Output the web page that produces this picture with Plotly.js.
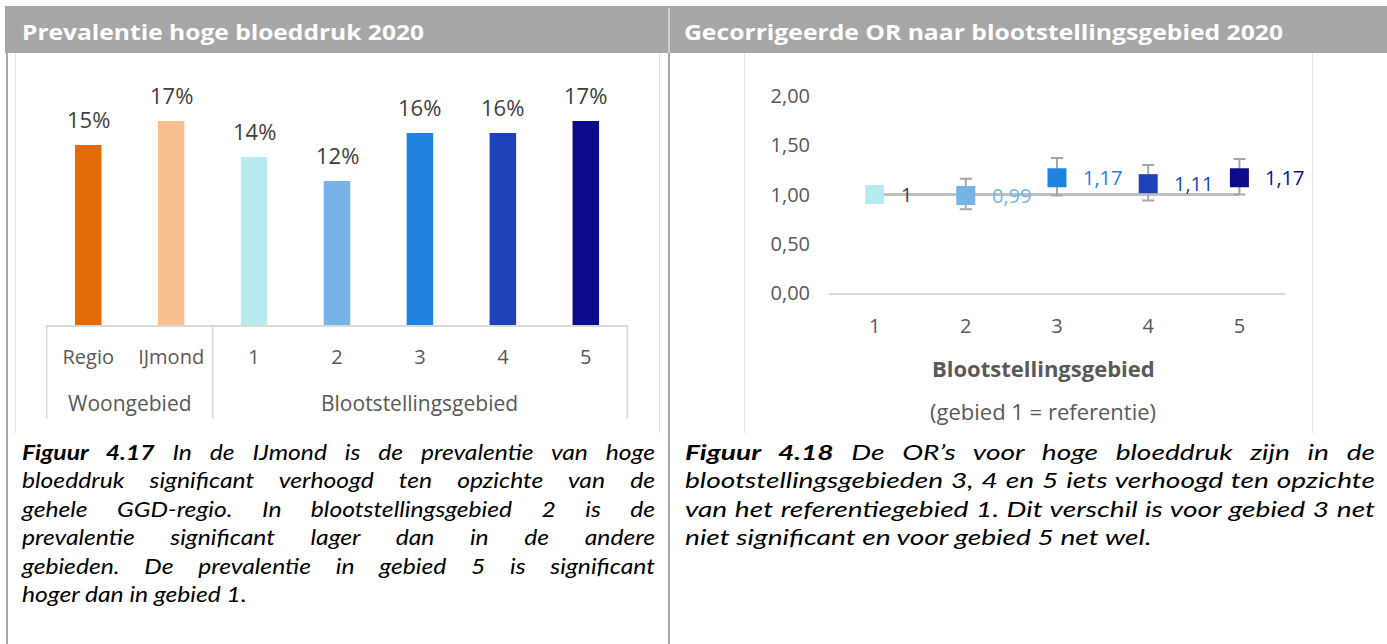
<!DOCTYPE html>
<html>
<head>
<meta charset="utf-8">
<script src="https://cdn.plot.ly/plotly-3.0.1.min.js"></script>
<style>
  html, body { margin:0; padding:0; background:#fff; }
  body { width:1387px; height:644px; position:relative; overflow:hidden; font-family:"Open Sans", Lato, sans-serif; }
  .abs { position:absolute; }
  #hdr { left:5px; top:6px; width:1382px; height:47px; background:#a6a6a6; }
  .htitle { position:absolute; top:8px; line-height:46px; color:#fff; font-weight:700; font-size:22px; white-space:nowrap; transform-origin:0 50%; }
  .vline { position:absolute; }
  .cap { position:absolute; font-family:Lato, "Open Sans", sans-serif; font-style:italic; color:#000; transform-origin:0 0; }
  .cap div { height:28.4px; line-height:28.4px; text-align:justify; text-align-last:justify; }
  .cap div.last { text-align:left; text-align-last:left; }
  .cap.measure div { text-align:left; text-align-last:left; white-space:nowrap; }
  .cap b { font-weight:700; }
</style>
</head>
<body>
<div id="hdr" class="abs"></div>
<div class="vline" style="left:668px;top:8px;width:2px;height:45px;background:#d0d0d0;"></div>
<div id="hL" class="htitle" style="left:22px;">Prevalentie hoge bloeddruk 2020</div>
<div id="hR" class="htitle" style="left:684px;">Gecorrigeerde OR naar blootstellingsgebied 2020</div>

<div class="vline" style="left:6px;top:53px;width:2px;height:591px;background:#a6a6a6;"></div>
<div class="vline" style="left:668px;top:53px;width:2px;height:591px;background:#a6a6a6;"></div>
<div class="vline" style="left:15px;top:53px;width:1px;height:380px;background:#e2e2e2;"></div>
<div class="vline" style="left:659px;top:53px;width:1px;height:380px;background:#e2e2e2;"></div>
<div class="vline" style="left:744px;top:53px;width:1px;height:380px;background:#e2e2e2;"></div>
<div class="vline" style="left:1312px;top:53px;width:1px;height:380px;background:#e2e2e2;"></div>

<div id="chartL" class="abs" style="left:15px;top:53px;width:645px;height:380px;"></div>
<div id="chartR" class="abs" style="left:744px;top:53px;width:568px;height:380px;"></div>

<div id="capL" class="cap" style="left:22px;top:438px;width:633px;font-size:21px;">
  <div><span><b>Figuur 4.17</b> In de IJmond is de prevalentie van hoge</span></div>
  <div><span>bloeddruk significant verhoogd ten opzichte van de</span></div>
  <div><span>gehele GGD-regio. In blootstellingsgebied 2 is de</span></div>
  <div><span>prevalentie significant lager dan in de andere</span></div>
  <div><span>gebieden. De prevalentie in gebied 5 is significant</span></div>
  <div class="last"><span>hoger dan in gebied 1.</span></div>
</div>
<div id="capR" class="cap" style="left:685px;top:438px;width:690px;font-size:21px;">
  <div><span><b>Figuur 4.18</b> De OR’s voor hoge bloeddruk zijn in de</span></div>
  <div><span>blootstellingsgebieden 3, 4 en 5 iets verhoogd ten opzichte</span></div>
  <div><span>van het referentiegebied 1. Dit verschil is voor gebied 3 net</span></div>
  <div class="last"><span>niet significant en voor gebied 5 net wel.</span></div>
</div>

<script>
// ---------- Data: prevalence chart ----------
const categories = ['Regio', 'IJmond', '1', '2', '3', '4', '5'];
const groups = ['Woongebied', 'Woongebied', 'Blootstellingsgebied', 'Blootstellingsgebied',
                'Blootstellingsgebied', 'Blootstellingsgebied', 'Blootstellingsgebied'];
const prevalence = [15, 17, 14, 12, 16, 16, 17];
const prevLabels = ['15%', '17%', '14%', '12%', '16%', '16%', '17%'];
const barColors = ['#e36c0a', '#f9c08f', '#b6ecef', '#76b4e8', '#1f83df', '#1e43b9', '#0b0b8c'];

// ---------- Data: odds ratio chart ----------
const areas = ['1', '2', '3', '4', '5'];
const orValues = [1.00, 0.99, 1.17, 1.11, 1.17];
const ciUpper = [1.00, 1.16, 1.37, 1.30, 1.36];
const ciLower = [1.00, 0.85, 0.99, 0.94, 1.00];
const orLabels = ['1', '0,99', '1,17', '1,11', '1,17'];
const orColors = ['#b6ecef', '#76b4e8', '#1f83df', '#1e43b9', '#0b0b8c'];
const orLabelColors = ['#404040', '#76b4e8', '#1f83df', '#1e43b9', '#0b0b8c'];
const refLine = [1, 1, 1, 1, 1];
const orTicks = [0, 0.5, 1, 1.5, 2];

const FONT = '"Open Sans", Lato, sans-serif';
const GREY = '#595959';
const config = {staticPlot: true, displayModeBar: false};

// ---------- Left chart ----------
(function () {
  const PLOT_H = 240;
  const annotations = [];
  categories.forEach((c, i) => {
    annotations.push({
      x: i, y: prevalence[i], xref: 'x', yref: 'y', text: prevLabels[i],
      showarrow: false, yanchor: 'middle', yshift: 26,
      font: {family: FONT, size: 22, color: '#404040'}
    });
  });
  const shapes = [];
  const bounds = [-0.5];
  let start = 0;
  for (let i = 1; i <= groups.length; i++) {
    if (i === groups.length || groups[i] !== groups[start]) {
      annotations.push({
        x: (start + i - 1) / 2, y: -78 / PLOT_H, xref: 'x', yref: 'paper',
        text: groups[start], showarrow: false, yanchor: 'middle',
        font: {family: FONT, size: 21, color: GREY}
      });
      bounds.push(i - 0.5);
      start = i;
    }
  }
  bounds.forEach(b => shapes.push({
    type: 'line', xref: 'x', yref: 'paper', x0: b, x1: b, y0: 0, y1: -94 / PLOT_H,
    line: {color: '#d9d9d9', width: 1.5}, layer: 'below'
  }));

  Plotly.newPlot('chartL', [{
    type: 'bar', x: categories, y: prevalence,
    marker: {color: barColors}, hoverinfo: 'none'
  }], {
    width: 645, height: 380,
    margin: {l: 31, r: 32, t: 32, b: 108, pad: 0},
    paper_bgcolor: 'rgba(0,0,0,0)', plot_bgcolor: 'rgba(0,0,0,0)',
    bargap: 0.68, showlegend: false,
    font: {family: FONT, size: 20, color: GREY},
    xaxis: {
      type: 'category', showline: true, linecolor: '#d9d9d9', linewidth: 2,
      ticks: '', showgrid: false, zeroline: false, ticklabelstandoff: 13,
      tickfont: {family: FONT, size: 20, color: GREY}, fixedrange: true
    },
    yaxis: {visible: false, range: [0, 20], fixedrange: true},
    annotations: annotations, shapes: shapes
  }, config);
})();

// ---------- Right chart ----------
(function () {
  const PLOT_W = 456, PLOT_H = 197, L = 85;
  const annotations = areas.map((a, i) => ({
    x: i, y: orValues[i], xref: 'x', yref: 'y', text: orLabels[i],
    showarrow: false, xanchor: 'left', yanchor: 'middle', xshift: 24,
    font: {family: FONT, size: 20, color: orLabelColors[i]}
  }));
  annotations.push({
    x: (299 - L) / PLOT_W, y: -75 / PLOT_H, xref: 'paper', yref: 'paper',
    text: '<b>Blootstellingsgebied</b>', showarrow: false, yanchor: 'middle',
    font: {family: FONT, size: 22, color: GREY}
  });
  annotations.push({
    x: (299 - L) / PLOT_W, y: -118 / PLOT_H, xref: 'paper', yref: 'paper',
    text: '(gebied 1 = referentie)', showarrow: false, yanchor: 'middle',
    font: {family: FONT, size: 22, color: GREY}
  });

  Plotly.newPlot('chartR', [
    {
      type: 'scatter', mode: 'lines', x: areas, y: refLine,
      line: {color: '#bfbfbf', width: 3}, hoverinfo: 'none'
    },
    {
      type: 'scatter', mode: 'markers', x: areas, y: orValues,
      marker: {symbol: 'square', size: 19, color: orColors},
      error_y: {
        type: 'data', symmetric: false,
        array: ciUpper.map((u, i) => u - orValues[i]),
        arrayminus: ciLower.map((l, i) => orValues[i] - l),
        color: '#a6a6a6', thickness: 2, width: 6
      },
      hoverinfo: 'none'
    }
  ], {
    width: 568, height: 380,
    margin: {l: L, r: 27, t: 43, b: 140, pad: 0},
    paper_bgcolor: 'rgba(0,0,0,0)', plot_bgcolor: 'rgba(0,0,0,0)',
    showlegend: false, separators: ',.',
    font: {family: FONT, size: 20, color: GREY},
    xaxis: {
      type: 'category', range: [-0.5, 4.5], showline: true, linecolor: '#d9d9d9', linewidth: 2,
      ticks: '', showgrid: false, zeroline: false, ticklabelstandoff: 14,
      tickfont: {family: FONT, size: 20, color: GREY}, fixedrange: true
    },
    yaxis: {
      range: [0, 2], tickvals: orTicks, tickformat: '.2f', showgrid: false, zeroline: false,
      showline: false, ticks: '', ticklabelstandoff: 18,
      tickfont: {family: FONT, size: 20, color: GREY}, fixedrange: true
    },
    annotations: annotations
  }, config);
})();

// ---------- Fit header / caption widths to the reference layout ----------
function fitText() {
  [['hL', 402], ['hR', 599]].forEach(([id, target]) => {
    const el = document.getElementById(id);
    el.style.transform = 'none';
    const w = el.getBoundingClientRect().width;
    el.style.transform = 'scaleX(' + (target / w) + ')';
  });
  // [id, box width, fill fraction of widest justified line, target width of last line]
  [['capL', 633, 0.93, 200], ['capR', 690, 0.985, 477]].forEach(([id, boxW, fill, lastTarget]) => {
    const el = document.getElementById(id);
    el.style.transform = 'none';
    el.style.width = '3000px';
    el.classList.add('measure');
    let maxW = 0;
    el.querySelectorAll('div:not(.last) span').forEach(sp => {
      maxW = Math.max(maxW, sp.getBoundingClientRect().width);
    });
    const lastW = el.querySelector('div.last span').getBoundingClientRect().width;
    el.classList.remove('measure');
    const sFill = fill * boxW / maxW;
    const sLast = lastTarget / lastW;
    const s = Math.min(sFill, Math.sqrt(sFill * sLast));
    el.style.width = (boxW / s) + 'px';
    el.style.transform = 'scaleX(' + s + ')';
  });
}
fitText();
if (document.fonts && document.fonts.ready) document.fonts.ready.then(fitText);
</script>
</body>
</html>
